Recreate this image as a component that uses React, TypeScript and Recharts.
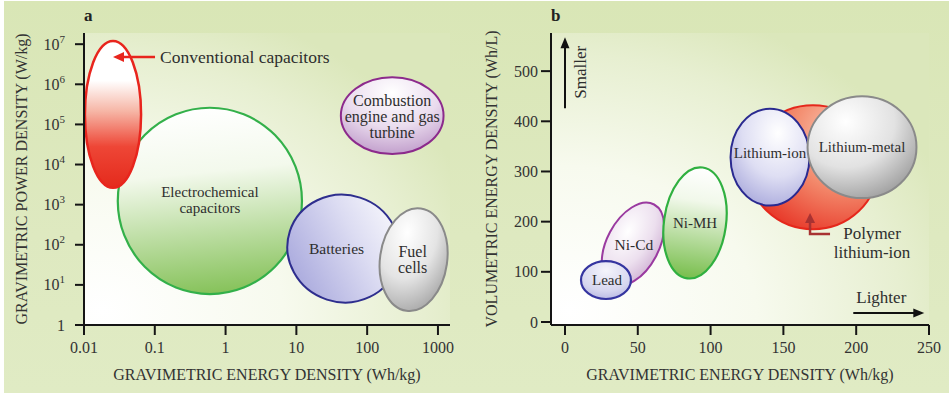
import React from 'react';
import { ComposedChart, XAxis, YAxis, ReferenceArea, ReferenceDot } from 'recharts';

const FONT = '"Liberation Serif", "Times New Roman", serif';
const INK = '#2e2e2e';

// ---------------- Panel a (log-log) ----------------
const energyTicksA = [0.01, 0.1, 1, 10, 100, 1000];
const powerTicksA = [1, 10, 100, 1000, 10000, 100000, 1000000, 10000000];
const energyDomainA = [0.01, 1480];
const powerDomainA = [1, 1.9e7];

const regionNamesA = ['Electrochemical capacitors', 'Conventional capacitors', 'Batteries', 'Fuel cells', 'Combustion engine and gas turbine'];
const regionLabelsA = [['Electrochemical', 'capacitors'], [], ['Batteries'], ['Fuel', 'cells'], ['Combustion', 'engine and gas', 'turbine']];
const regionEnergyMinA = [0.03, 0.0103, 7.4, 152, 42.5];
const regionEnergyMaxA = [12, 0.064, 290, 1350, 1200];
const regionPowerMinA = [5.9, 2630, 3.7, 2.2, 18200];
const regionPowerMaxA = [260000, 12000000, 1740, 830, 1500000];

const convLabel = 'Conventional capacitors';
const convArrowTip = { x: 0.0257, y: 4800000 };

// ---------------- Panel b (linear) ----------------
const energyTicksB = [0, 50, 100, 150, 200, 250];
const volumeTicksB = [0, 100, 200, 300, 400, 500];
const energyDomainB = [-9.6, 250];
const volumeDomainB = [-6, 576];

const regionNamesB = ['Ni-Cd', 'Lead', 'Ni-MH', 'Polymer lithium-ion', 'Lithium-ion', 'Lithium-metal'];
const regionLabelsB = [['Ni-Cd'], ['Lead'], ['Ni-MH'], [], ['Lithium-ion'], ['Lithium-metal']];
const regionEnergyMinB = [15.8, 11, 68, 125.7, 113.7, 166.6];
const regionEnergyMaxB = [77.6, 45.3, 110.6, 214.9, 167.9, 241.4];
const regionVolumeMinB = [103.2, 45.8, 86, 185, 232, 247];
const regionVolumeMaxB = [206.8, 121.5, 309, 432, 425, 450];

const smallerLabel = 'Smaller';
const smallerAnchor = { x: 0, y: 426 };
const lighterLabel = 'Lighter';
const lighterAnchor = { x: 198, y: 18 };
const polymerLabel = ['Polymer', 'lithium-ion'];
const polymerArrowTip = { x: 168.3, y: 217 };

// ---------------- styles ----------------
type St = { grad: string; stroke: string; sw: number; rot: number; fs: number; lh: number; dx: number; dy: number };
const styles: Record<string, St> = {
  'Electrochemical capacitors': { grad: 'gElec', stroke: '#33b04a', sw: 2.2, rot: 0, fs: 15, lh: 16, dx: 0, dy: -1 },
  'Conventional capacitors': { grad: 'gConv', stroke: '#e8251d', sw: 2.5, rot: 0, fs: 15, lh: 16, dx: 0, dy: 0 },
  'Batteries': { grad: 'gBatt', stroke: '#2e2e8e', sw: 2, rot: 18, fs: 15.5, lh: 16, dx: -7, dy: 0 },
  'Fuel cells': { grad: 'gFuel', stroke: '#8a8a8a', sw: 2, rot: 8, fs: 16, lh: 16, dx: -1, dy: -0.5 },
  'Combustion engine and gas turbine': { grad: 'gComb', stroke: '#8c2a8c', sw: 2, rot: 0, fs: 16, lh: 16, dx: 0, dy: 0.5 },
  'Ni-Cd': { grad: 'gNiCd', stroke: '#9a3aa0', sw: 2, rot: -62, fs: 15.5, lh: 16, dx: 1, dy: 0 },
  'Lead': { grad: 'gLead', stroke: '#3535a0', sw: 2.2, rot: 0, fs: 15, lh: 16, dx: 1, dy: 0 },
  'Ni-MH': { grad: 'gNiMH', stroke: '#30b040', sw: 2.2, rot: 8, fs: 15, lh: 16, dx: 0, dy: 0 },
  'Polymer lithium-ion': { grad: 'gPoly', stroke: '#e5281c', sw: 2, rot: 0, fs: 15, lh: 16, dx: 0, dy: 0 },
  'Lithium-ion': { grad: 'gLiIon', stroke: '#2a2a90', sw: 2, rot: 0, fs: 15, lh: 16, dx: 0, dy: -4 },
  'Lithium-metal': { grad: 'gLiMet', stroke: '#8a8a8a', sw: 2, rot: 0, fs: 15, lh: 16, dx: 0, dy: 0 },
};

function makeEllipse(lines: string[], st: St) {
  return (p: any) => {
    const { x, y, width, height } = p;
    if (x == null || isNaN(x) || isNaN(y)) return <g />;
    const cx = x + width / 2;
    const cy = y + height / 2;
    const n = lines.length;
    return (
      <g>
        <ellipse
          cx={cx}
          cy={cy}
          rx={Math.abs(width) / 2}
          ry={Math.abs(height) / 2}
          fill={`url(#${st.grad})`}
          stroke={st.stroke}
          strokeWidth={st.sw}
          transform={st.rot ? `rotate(${st.rot} ${cx} ${cy})` : undefined}
        />
        {lines.map((l, i) => (
          <text
            key={i}
            x={cx + st.dx}
            y={cy + st.dy + (i - (n - 1) / 2) * st.lh}
            dy="0.35em"
            textAnchor="middle"
            fontSize={st.fs}
            fill={INK}
            fontFamily={FONT}
          >
            {l}
          </text>
        ))}
      </g>
    );
  };
}

const stops = (arr: [number, string][]) => arr.map(([o, c], i) => <stop key={i} offset={o} stopColor={c} />);

const Gradients = () => (
  <defs>
    <radialGradient id="plotBg" cx="0" cy="1" r="1.15" fx="0.05" fy="0.95">
      {stops([[0, '#ffffff'], [0.45, '#f7faee'], [0.8, '#e7efd1'], [1, '#dbe7bb']])}
    </radialGradient>
    <linearGradient id="gConv" x1="0" y1="0" x2="0" y2="1">
      {stops([[0, '#ffffff'], [0.27, '#ffffff'], [0.48, '#f6b5a5'], [0.72, '#ee4636'], [1, '#e42a1c']])}
    </linearGradient>
    <linearGradient id="gElec" x1="0.4" y1="0" x2="0.5" y2="1">
      {stops([[0, '#ffffff'], [0.35, '#f3f9ec'], [1, '#86c25a']])}
    </linearGradient>
    <linearGradient id="gBatt" x1="1" y1="0" x2="0" y2="1">
      {stops([[0, '#ffffff'], [0.4, '#dcdcf2'], [1, '#9d9dd8']])}
    </linearGradient>
    <radialGradient id="gFuel" cx="0.35" cy="0.25" r="0.9">
      {stops([[0, '#ffffff'], [0.5, '#e4e4e4'], [1, '#9a9a9a']])}
    </radialGradient>
    <radialGradient id="gComb" cx="0.5" cy="0.2" r="0.9">
      {stops([[0, '#ffffff'], [0.5, '#eadcee'], [1, '#b78fc3']])}
    </radialGradient>
    <radialGradient id="gLead" cx="0.5" cy="0.25" r="0.9">
      {stops([[0, '#f4f4fb'], [0.6, '#d6d6ef'], [1, '#a9a9dc']])}
    </radialGradient>
    <radialGradient id="gNiCd" cx="0.6" cy="0.3" r="0.9">
      {stops([[0, '#ffffff'], [0.5, '#ecdfee'], [1, '#c6a2cb']])}
    </radialGradient>
    <linearGradient id="gNiMH" x1="0.5" y1="0" x2="0.5" y2="1">
      {stops([[0, '#ffffff'], [0.3, '#f1f8ea'], [1, '#78be4c']])}
    </linearGradient>
    <radialGradient id="gPoly" cx="0.75" cy="0.25" r="0.95">
      {stops([[0, '#fbd2bf'], [0.45, '#f38a6c'], [1, '#e5261a']])}
    </radialGradient>
    <radialGradient id="gLiIon" cx="0.6" cy="0.25" r="0.9">
      {stops([[0, '#ffffff'], [0.5, '#dedef3'], [1, '#9c9cd6']])}
    </radialGradient>
    <radialGradient id="gLiMet" cx="0.35" cy="0.25" r="0.9">
      {stops([[0, '#ffffff'], [0.5, '#e2e2e2'], [1, '#8e8e8e']])}
    </radialGradient>
  </defs>
);

const axisLine = { stroke: '#151515', strokeWidth: 2 };
const tickStyle = { fill: '#333', fontSize: 16, fontFamily: FONT };

const PowerTick = (p: any) => {
  const { x, y, payload } = p;
  const e = Math.round(Math.log10(payload.value));
  return (
    <text x={x - 8} y={y} dy={5.5} textAnchor="end" fill="#333" fontSize={16} fontFamily={FONT}>
      {e === 0 ? '1' : (
        <>
          10
          <tspan dy={-7} fontSize={11}>{e}</tspan>
        </>
      )}
    </text>
  );
};

const bgArea = (p: any) => <rect x={p.x} y={p.y} width={p.width} height={p.height} fill="url(#plotBg)" />;

function ChartA() {
  return (
    <ComposedChart width={470} height={396} margin={{ top: 33, right: 20, bottom: 0, left: 0 }}>
      <Gradients />
      <XAxis
        type="number"
        dataKey="x"
        scale="log"
        domain={energyDomainA}
        ticks={energyTicksA}
        interval={0}
        allowDataOverflow
        height={71}
        tickSize={10}
        tickMargin={7}
        axisLine={axisLine}
        tickLine={axisLine}
        tick={tickStyle}
        tickFormatter={(v: number) => String(v)}
        label={{ value: 'GRAVIMETRIC ENERGY DENSITY (Wh/kg)', position: 'insideBottom', offset: 16, style: { fill: '#333', fontSize: 16, fontFamily: FONT } }}
      />
      <YAxis
        type="number"
        dataKey="y"
        scale="log"
        domain={powerDomainA}
        ticks={powerTicksA}
        interval={0}
        allowDataOverflow
        width={84}
        tickSize={9}
        axisLine={axisLine}
        tickLine={axisLine}
        tick={<PowerTick />}
        label={{ value: 'GRAVIMETRIC POWER DENSITY (W/kg)', angle: -90, position: 'insideLeft', offset: 21, style: { fill: '#333', fontSize: 16, fontFamily: FONT, textAnchor: 'middle' } }}
      />
      <ReferenceArea x1={energyDomainA[0]} x2={energyDomainA[1]} y1={powerDomainA[0]} y2={powerDomainA[1]} ifOverflow="visible" shape={bgArea} />
      {regionNamesA.map((name, i) => (
        <ReferenceArea
          key={name}
          x1={regionEnergyMinA[i]}
          x2={regionEnergyMaxA[i]}
          y1={regionPowerMinA[i]}
          y2={regionPowerMaxA[i]}
          ifOverflow="visible"
          shape={makeEllipse(regionLabelsA[i], styles[name])}
        />
      ))}
      <ReferenceDot
        x={convArrowTip.x}
        y={convArrowTip.y}
        ifOverflow="visible"
        shape={(p: any) => (
          <g>
            <line x1={p.cx + 8} y1={p.cy} x2={p.cx + 42} y2={p.cy} stroke="#e8251d" strokeWidth={2.5} />
            <polygon points={`${p.cx},${p.cy} ${p.cx + 11},${p.cy - 5} ${p.cx + 11},${p.cy + 5}`} fill="#e8251d" />
            <text x={p.cx + 47} y={p.cy} dy="0.35em" fontSize={17.5} fill={INK} fontFamily={FONT}>{convLabel}</text>
          </g>
        )}
      />
    </ComposedChart>
  );
}

function ChartB() {
  return (
    <ComposedChart width={479} height={396} margin={{ top: 33, right: 20, bottom: 0, left: 0 }}>
      <Gradients />
      <XAxis
        type="number"
        dataKey="x"
        domain={energyDomainB}
        ticks={energyTicksB}
        interval={0}
        allowDataOverflow
        height={71}
        tickSize={10}
        tickMargin={7}
        axisLine={axisLine}
        tickLine={axisLine}
        tick={tickStyle}
        label={{ value: 'GRAVIMETRIC ENERGY DENSITY (Wh/kg)', position: 'insideBottom', offset: 16, style: { fill: '#333', fontSize: 16, fontFamily: FONT } }}
      />
      <YAxis
        type="number"
        dataKey="y"
        domain={volumeDomainB}
        ticks={volumeTicksB}
        interval={0}
        allowDataOverflow
        width={81}
        tickSize={10}
        tickMargin={3}
        axisLine={axisLine}
        tickLine={axisLine}
        tick={tickStyle}
        label={{ value: 'VOLUMETRIC ENERGY DENSITY (Wh/L)', angle: -90, position: 'insideLeft', offset: 21, style: { fill: '#333', fontSize: 16, fontFamily: FONT, textAnchor: 'middle' } }}
      />
      <ReferenceArea x1={energyDomainB[0]} x2={energyDomainB[1]} y1={volumeDomainB[0]} y2={volumeDomainB[1]} ifOverflow="visible" shape={bgArea} />
      {regionNamesB.map((name, i) => (
        <ReferenceArea
          key={name}
          x1={regionEnergyMinB[i]}
          x2={regionEnergyMaxB[i]}
          y1={regionVolumeMinB[i]}
          y2={regionVolumeMaxB[i]}
          ifOverflow="visible"
          shape={makeEllipse(regionLabelsB[i], styles[name])}
        />
      ))}
      <ReferenceDot
        x={smallerAnchor.x}
        y={smallerAnchor.y}
        ifOverflow="visible"
        shape={(p: any) => (
          <g>
            <line x1={p.cx} y1={p.cy} x2={p.cx} y2={p.cy - 62} stroke="#111" strokeWidth={2} />
            <polygon points={`${p.cx},${p.cy - 71} ${p.cx - 4.5},${p.cy - 60} ${p.cx + 4.5},${p.cy - 60}`} fill="#111" />
            <text
              x={p.cx + 15}
              y={p.cy - 36}
              dy="0.35em"
              textAnchor="middle"
              fontSize={17}
              fill={INK}
              fontFamily={FONT}
              transform={`rotate(-90 ${p.cx + 15} ${p.cy - 36})`}
            >
              {smallerLabel}
            </text>
          </g>
        )}
      />
      <ReferenceDot
        x={lighterAnchor.x}
        y={lighterAnchor.y}
        ifOverflow="visible"
        shape={(p: any) => (
          <g>
            <line x1={p.cx} y1={p.cy} x2={p.cx + 62} y2={p.cy} stroke="#111" strokeWidth={2} />
            <polygon points={`${p.cx + 71},${p.cy} ${p.cx + 60},${p.cy - 4.5} ${p.cx + 60},${p.cy + 4.5}`} fill="#111" />
            <text x={p.cx + 28} y={p.cy - 10} textAnchor="middle" fontSize={17} fill={INK} fontFamily={FONT}>{lighterLabel}</text>
          </g>
        )}
      />
      <ReferenceDot
        x={polymerArrowTip.x}
        y={polymerArrowTip.y}
        ifOverflow="visible"
        shape={(p: any) => (
          <g>
            <polyline points={`${p.cx},${p.cy + 8} ${p.cx},${p.cy + 21} ${p.cx + 20},${p.cy + 21}`} fill="none" stroke="#a83232" strokeWidth={2.5} />
            <polygon points={`${p.cx},${p.cy} ${p.cx - 5},${p.cy + 10} ${p.cx + 5},${p.cy + 10}`} fill="#a83232" />
            {polymerLabel.map((l, i) => (
              <text key={i} x={p.cx + 62} y={p.cy + 26 + i * 19} textAnchor="middle" fontSize={17} fill={INK} fontFamily={FONT}>{l}</text>
            ))}
          </g>
        )}
      />
    </ComposedChart>
  );
}

export default function App() {
  return (
    <div style={{ position: 'absolute', left: 0, top: 0, width: 949, height: 396, background: '#ffffff' }}>
      <div style={{ position: 'absolute', left: 4, top: 1, width: 945, height: 392, background: 'linear-gradient(180deg, #d9e6b6 0%, #dee9c0 60%, #e0ebc4 100%)' }} />
      <div style={{ position: 'absolute', left: 0, top: 0 }}>
        <ChartA />
      </div>
      <div style={{ position: 'absolute', left: 470, top: 0 }}>
        <ChartB />
      </div>
      <div style={{ position: 'absolute', left: 84, top: 6, fontFamily: FONT, fontWeight: 'bold', fontSize: 17, color: '#222' }}>a</div>
      <div style={{ position: 'absolute', left: 551, top: 6, fontFamily: FONT, fontWeight: 'bold', fontSize: 17, color: '#222' }}>b</div>
    </div>
  );
}
